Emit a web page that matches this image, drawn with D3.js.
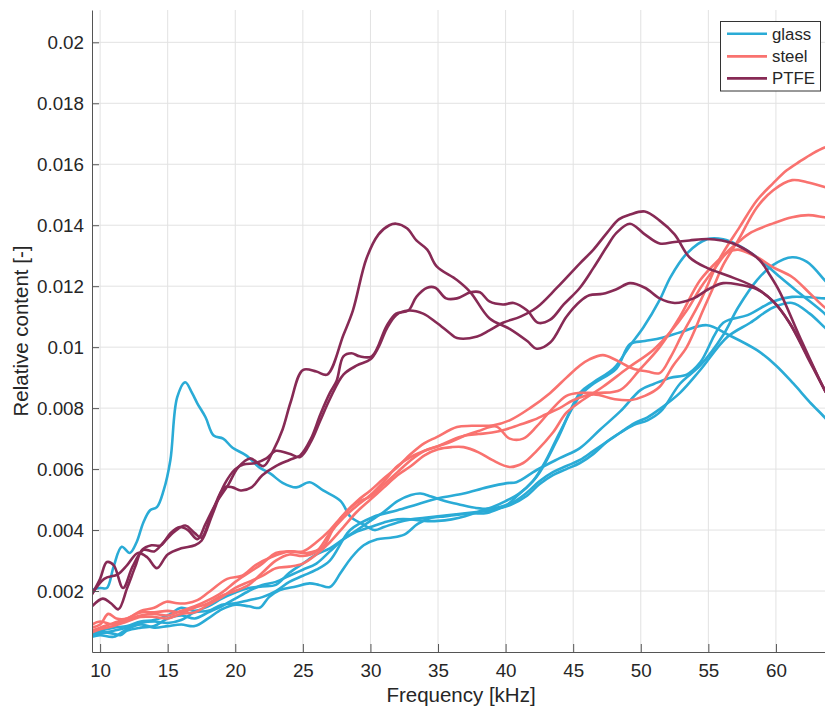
<!DOCTYPE html>
<html>
<head>
<meta charset="utf-8">
<script src="https://cdn.jsdelivr.net/npm/d3@7"></script>
<style>
  body { margin: 0; background: #fff; }
  svg { display: block; }
  text { font-family: "Liberation Sans", Arial, Helvetica, sans-serif; fill: #262626; }
</style>
</head>
<body>
<svg id="chart" width="825" height="708"></svg>
<script>
// ---- Axis settings -------------------------------------------------------
const xDomain = [9.4, 64];
const yDomain = [0, 0.02106];
const xTicks = [10, 15, 20, 25, 30, 35, 40, 45, 50, 55, 60];
const xTickLabels = ["10", "15", "20", "25", "30", "35", "40", "45", "50", "55", "60"];
const yTicks = [0.002, 0.004, 0.006, 0.008, 0.010, 0.012, 0.014, 0.016, 0.018, 0.020];
const yTickLabels = ["0.002", "0.004", "0.006", "0.008", "0.01", "0.012", "0.014", "0.016", "0.018", "0.02"];
const xLabel = "Frequency [kHz]";
const yLabel = "Relative content [-]";

// ---- Materials -----------------------------------------------------------
const materials = ["glass", "steel", "PTFE"];
const materialColors = ["#2aabd6", "#f9726f", "#872a55"];

// ---- Spectra: [frequency kHz, relative content] --------------------------
const glass1 = [[9.4,0.00205],[10,0.0021],[10.5,0.0021],[11,0.0028],[11.6,0.00345],[12.2,0.00325],[12.7,0.0036],[13.2,0.00425],[13.7,0.00465],[14.2,0.00475],[14.7,0.0053],[15.2,0.0063],[15.7,0.00835],[16.3,0.00885],[16.8,0.0085],[17.2,0.00815],[17.8,0.0077],[18.4,0.0071],[19.1,0.007],[19.8,0.0067],[20.8,0.00645],[21.8,0.00605],[22.6,0.00585],[23.5,0.00555],[24.5,0.0054],[25.5,0.00557],[26.5,0.0053],[27.8,0.00495],[28.5,0.00445],[29.4,0.0042],[30.3,0.004],[31,0.0041],[32,0.00425],[33,0.00435],[34,0.0044],[35,0.00445],[36,0.0045],[37,0.00455],[38,0.0046],[39,0.00465],[40,0.0048],[40.8,0.0051],[42.3,0.00575],[43.8,0.00695],[45.5,0.0085],[46.5,0.00885],[48,0.0093],[49.2,0.01005],[50.2,0.01065],[51.4,0.01155],[52.2,0.0123],[53.4,0.01307],[54.9,0.01354],[56.1,0.01354],[57.2,0.01335],[58.6,0.01295],[60.3,0.0123],[61.8,0.01175],[63.6,0.0111],[64,0.0109]];
const glass2 = [[9.4,0.0006],[10,0.00065],[11,0.0006],[11.5,0.00055],[12,0.0007],[13,0.0008],[14,0.00085],[15,0.0011],[16,0.0012],[17,0.0011],[18,0.0013],[19,0.0015],[20,0.00175],[21,0.002],[22,0.0022],[23,0.0023],[24,0.0025],[25,0.0027],[26,0.0029],[27,0.0033],[28,0.0037],[29,0.004],[30,0.0043],[31,0.0046],[32,0.00495],[33,0.00515],[33.7,0.0052],[34.5,0.0051],[35.5,0.00495],[36.5,0.00485],[37.5,0.00475],[38.5,0.0047],[39.5,0.00475],[40.5,0.0049],[41.5,0.0052],[42.5,0.0056],[43.5,0.0059],[44.5,0.0061],[45.5,0.0063],[46.5,0.0066],[47.5,0.0069],[48.5,0.0072],[49.5,0.0075],[50.5,0.0077],[51.5,0.008],[52.9,0.0085],[54.4,0.00925],[56.4,0.01033],[58.1,0.0108],[59.8,0.0113],[61.2,0.01145],[62.5,0.0111],[63.6,0.01065],[64,0.0105]];
const glass3 = [[9.4,0.00055],[10,0.0006],[11,0.0007],[12,0.0008],[13,0.00095],[14,0.001],[15,0.00095],[16,0.00105],[17,0.0013],[18,0.00135],[19,0.00155],[20,0.0016],[21,0.0017],[22,0.0018],[23,0.002],[24,0.0023],[25,0.0025],[26,0.0027],[27,0.003],[28.5,0.004],[30.2,0.00443],[32,0.00465],[33.5,0.00485],[35.1,0.00505],[36.9,0.0052],[38.6,0.0054],[40.1,0.00554],[40.8,0.00557],[42.3,0.00597],[44,0.00636],[45.5,0.00669],[47,0.0073],[48.5,0.0079],[50,0.0086],[51,0.0088],[52.2,0.009],[53.4,0.0091],[54.4,0.0095],[56.1,0.0108],[57.9,0.01105],[59.8,0.0115],[61.2,0.01165],[63.6,0.0116],[64,0.0116]];
const glass4 = [[9.4,0.0005],[10,0.00055],[11,0.0005],[12,0.00075],[13,0.0009],[14,0.0008],[15,0.00085],[16,0.0009],[17,0.00085],[18,0.0011],[19,0.0014],[20,0.00155],[21,0.0015],[21.8,0.00145],[22.5,0.0018],[23.3,0.00203],[24.5,0.00215],[25.5,0.00225],[26.2,0.0022],[27,0.00213],[27.8,0.0026],[28.6,0.0031],[29.5,0.0035],[30.5,0.0037],[31.5,0.00375],[32.5,0.00385],[33.5,0.0042],[34.5,0.0044],[35.5,0.00445],[36.5,0.0045],[37.5,0.00455],[38.5,0.00455],[39.5,0.0047],[40.5,0.00485],[41.5,0.0051],[42.5,0.0055],[43.5,0.0058],[44.5,0.006],[45.5,0.0062],[46.5,0.0065],[47.5,0.0069],[48.5,0.0072],[49.5,0.00745],[50.5,0.0076],[51.5,0.0079],[52.9,0.0088],[54.4,0.0094],[56.1,0.0104],[57.2,0.0113],[58.6,0.0122],[59.8,0.0127],[61.2,0.01295],[62.3,0.0128],[63.6,0.0122],[64,0.012]];
const glass5 = [[9.4,0.00065],[10,0.0007],[11,0.0008],[12,0.00085],[13,0.001],[14,0.00105],[15,0.0012],[16,0.00145],[17,0.00135],[18,0.0015],[19,0.00175],[20,0.00195],[21,0.0021],[22,0.00215],[23,0.0022],[24,0.0026],[25,0.0029],[26,0.0032],[27,0.0034],[28,0.0037],[29,0.00395],[30,0.0041],[31,0.00425],[32,0.00435],[33,0.00435],[34,0.0043],[35,0.0043],[36,0.00435],[37,0.00445],[38,0.0046],[39,0.00475],[40,0.00495],[41,0.0052],[42,0.0056],[43,0.0063],[44,0.0072],[45.5,0.0084],[46.5,0.0088],[48.2,0.0093],[49.2,0.0101],[50.3,0.0102],[51.5,0.0103],[53,0.0105],[54.9,0.01072],[56.5,0.0104],[58.6,0.0099],[60,0.0094],[61.3,0.0088],[62.5,0.0082],[63.6,0.0077],[64,0.0075]];

const steel1 = [[9.4,0.0008],[10,0.0009],[10.6,0.00125],[11.2,0.0011],[12,0.0011],[13,0.00135],[14,0.00145],[14.9,0.00165],[15.7,0.0016],[16.4,0.0016],[17.2,0.0017],[18,0.00195],[19.4,0.0024],[20.5,0.0025],[21.5,0.00285],[22.6,0.0031],[24,0.0033],[25.3,0.00325],[26.5,0.00345],[27.2,0.004],[28,0.0045],[29,0.00495],[30,0.0053],[31,0.0057],[32,0.00607],[33,0.0065],[34,0.00685],[34.9,0.00705],[36.4,0.00738],[37.5,0.00742],[39.1,0.00744],[40.3,0.0076],[41.8,0.008],[43.3,0.0085],[44.5,0.009],[45.5,0.0094],[46.2,0.0096],[47.2,0.00974],[48.2,0.00957],[49.4,0.0093],[50.5,0.0092],[51.4,0.00915],[52.2,0.00967],[53.1,0.01045],[54.4,0.0115],[55.9,0.01295],[57.3,0.01393],[58.6,0.01482],[59.8,0.01538],[60.8,0.0158],[61.8,0.0161],[62.7,0.01635],[63.6,0.01655],[64,0.0166]];
const steel2 = [[9.4,0.0007],[10,0.0008],[11,0.00095],[12,0.0011],[13,0.0013],[14,0.0013],[15,0.00135],[16,0.0013],[17,0.00145],[18,0.0016],[19,0.00185],[20,0.002],[21,0.0022],[22,0.0026],[23,0.003],[24,0.0032],[25,0.00315],[26,0.0033],[27,0.0039],[28,0.0044],[29,0.0048],[30,0.00515],[31,0.0056],[32,0.0061],[33,0.0064],[34,0.0066],[35,0.00675],[36,0.00695],[37,0.0071],[38,0.00715],[39,0.0072],[40,0.0073],[41,0.00745],[42,0.0076],[43,0.0078],[44,0.008],[45,0.00826],[46.5,0.00845],[48,0.0083],[49.2,0.00826],[50.3,0.0084],[51.4,0.0087],[52.4,0.0094],[53.4,0.01],[54.6,0.0112],[55.4,0.012],[56.1,0.0127],[57.2,0.0135],[58.6,0.01459],[59.8,0.01515],[61.2,0.01548],[62.3,0.01541],[63.6,0.01525],[64,0.0152]];
const steel3 = [[9.4,0.0009],[10,0.001],[11,0.0009],[12,0.00105],[13,0.0012],[14,0.00125],[15,0.0012],[16,0.00135],[17,0.0015],[18,0.0017],[19,0.00195],[20,0.0023],[21,0.0026],[22,0.0029],[23,0.00325],[24,0.0033],[25,0.0033],[26,0.0036],[27,0.004],[28,0.0045],[29,0.0049],[30,0.0051],[31,0.0055],[32,0.0059],[33,0.0063],[34,0.0066],[35,0.00675],[36,0.0069],[37,0.0071],[38,0.00725],[39.3,0.0074],[40.3,0.007],[41.3,0.007],[42.3,0.0074],[43.3,0.0079],[44.5,0.0084],[45.5,0.0085],[47,0.0085],[48.5,0.0086],[50,0.0093],[51.4,0.01],[52.9,0.011],[54.4,0.0122],[55.9,0.01292],[57.2,0.01344],[58.2,0.01377],[59.8,0.01406],[61.2,0.01426],[62.4,0.01433],[63.6,0.01426],[64,0.01425]];
const steel4 = [[9.4,0.00065],[10,0.00075],[11,0.00085],[12,0.001],[13,0.00115],[14,0.00115],[15,0.0011],[16,0.00125],[17,0.0013],[18,0.00155],[19,0.0018],[20,0.0021],[21,0.0023],[22,0.0025],[23,0.00275],[24,0.0028],[25,0.0029],[26,0.0032],[27,0.0036],[28,0.0041],[29,0.0046],[30,0.005],[31,0.0054],[32,0.0058],[33,0.0061],[34,0.00645],[35,0.00665],[36,0.00672],[36.9,0.00672],[38,0.00655],[39,0.0063],[40.3,0.00607],[41.3,0.0062],[42.3,0.0066],[43.5,0.0072],[44.5,0.00785],[45.5,0.0082],[47.2,0.0087],[49,0.0093],[50.9,0.0099],[52.2,0.0105],[53.4,0.0112],[54.5,0.012],[55.5,0.0126],[56.4,0.0131],[57.2,0.0132],[58.6,0.01295],[59.8,0.01262],[61.2,0.0123],[62.5,0.01177],[63.6,0.01131],[64,0.0112]];

const ptfe1 = [[9.4,0.0015],[10.2,0.00175],[10.8,0.0016],[11.35,0.0014],[12,0.0021],[12.6,0.0028],[13.1,0.00335],[13.8,0.0035],[14.5,0.0035],[15.2,0.0039],[15.9,0.0041],[16.5,0.004],[17.2,0.0037],[17.8,0.0042],[18.6,0.0049],[19.5,0.0055],[20.2,0.00605],[21.1,0.00635],[22.1,0.0061],[22.8,0.0066],[23.5,0.0073],[24.1,0.0082],[25,0.00925],[26,0.0092],[26.8,0.0091],[28,0.0104],[28.7,0.0112],[29.7,0.0129],[30.6,0.0137],[31.4,0.014],[31.9,0.01405],[32.7,0.0139],[33.4,0.0135],[34.2,0.0132],[34.9,0.01265],[36.4,0.0122],[37.4,0.0118],[38.8,0.01095],[40.3,0.0106],[41.6,0.0102],[42.3,0.00995],[43.3,0.01015],[44.5,0.011],[45.5,0.0115],[46.2,0.0117],[47.2,0.01175],[48.2,0.0119],[49.2,0.0121],[50.3,0.01195],[51.4,0.0116],[52.5,0.01145],[53.9,0.0116],[55,0.0119],[56.1,0.0121],[57.3,0.01205],[58.6,0.0119],[59.8,0.0115],[61,0.0108],[62.3,0.0097],[63.6,0.0086],[64,0.0083]];
const ptfe2 = [[9.4,0.0019],[10,0.0024],[10.5,0.00295],[11,0.00285],[11.7,0.0021],[12.4,0.0028],[13.2,0.00335],[14,0.0033],[14.7,0.0036],[15.5,0.00395],[16.3,0.00415],[17,0.0039],[17.5,0.00375],[18.3,0.0046],[19.2,0.0054],[19.8,0.0054],[20.4,0.0053],[21.2,0.0054],[22,0.0058],[23,0.0061],[24,0.0063],[24.8,0.00645],[25.6,0.007],[26.3,0.0078],[27,0.0085],[27.5,0.0089],[28,0.0097],[28.6,0.0098],[29.2,0.0097],[30.1,0.0097],[31.2,0.0107],[31.9,0.0111],[32.8,0.0112],[33.4,0.01165],[34.2,0.01195],[34.8,0.01195],[35.6,0.0116],[36.4,0.0116],[37.4,0.0118],[38.1,0.0118],[38.8,0.0115],[39.8,0.0114],[40.6,0.01145],[41.6,0.0112],[42.4,0.0108],[43.3,0.0109],[44.3,0.0114],[45.5,0.01195],[46.5,0.0126],[47.5,0.0133],[48.2,0.01375],[49.2,0.01405],[50.3,0.0137],[51.4,0.0134],[52.5,0.01345],[53.6,0.0135],[54.9,0.01355],[56,0.0135],[57.1,0.01335],[58.8,0.01285],[59.5,0.0124],[60.3,0.0118],[61.8,0.0103],[63.6,0.0086],[64,0.0083]];
const ptfe3 = [[9.4,0.0019],[10.3,0.0024],[11.3,0.00255],[12,0.00285],[12.8,0.00325],[13.5,0.0031],[14.2,0.00275],[15,0.0032],[16,0.0034],[17,0.0035],[17.5,0.00365],[18.3,0.0045],[19.2,0.0055],[20,0.006],[20.6,0.00615],[21.5,0.0062],[22.3,0.00635],[23,0.0066],[24,0.0065],[24.8,0.0064],[25.6,0.0069],[26.3,0.0076],[27,0.0083],[28,0.0091],[29,0.0094],[30,0.0096],[30.6,0.01],[31.2,0.0106],[31.9,0.01105],[32.8,0.0112],[33.9,0.0111],[34.9,0.0108],[35.9,0.01045],[36.4,0.0103],[37.9,0.01035],[38.8,0.01055],[39.8,0.0108],[41.1,0.011],[42.3,0.0113],[43.8,0.01195],[45.5,0.01275],[46.5,0.0132],[47.5,0.01375],[48.4,0.0142],[49.2,0.01435],[50.3,0.01445],[51.4,0.01415],[52.5,0.0137],[53.6,0.01295],[54.9,0.0126],[56.4,0.01235],[58.3,0.012],[59.8,0.0115],[61,0.0108],[62.3,0.00975],[63.6,0.0086],[64,0.0083]];

const glassSeries = [glass1, glass2, glass3, glass4, glass5];
const steelSeries = [steel1, steel2, steel3, steel4];
const ptfeSeries = [ptfe1, ptfe2, ptfe3];
const seriesByMaterial = [glassSeries, steelSeries, ptfeSeries];

// ---- Layout --------------------------------------------------------------
const plot = { left: 92, right: 830, top: 10, bottom: 652 };
const lineWidth = 2.6;

const svg = d3.select("#chart");
const x = d3.scaleLinear().domain(xDomain).range([plot.left, plot.right]);
const y = d3.scaleLinear().domain(yDomain).range([plot.bottom, plot.top]);

svg.append("defs").append("clipPath").attr("id", "plot-clip")
  .append("rect")
  .attr("x", plot.left).attr("y", plot.top)
  .attr("width", plot.right - plot.left).attr("height", plot.bottom - plot.top);

// grid
const grid = svg.append("g").attr("class", "grid");
grid.selectAll("line.vx").data(xTicks).join("line")
  .attr("x1", d => x(d)).attr("x2", d => x(d))
  .attr("y1", plot.top).attr("y2", plot.bottom)
  .attr("stroke", "#e2e2e2").attr("stroke-width", 1);
grid.selectAll("line.hy").data(yTicks).join("line")
  .attr("x1", plot.left).attr("x2", plot.right)
  .attr("y1", d => y(d)).attr("y2", d => y(d))
  .attr("stroke", "#e2e2e2").attr("stroke-width", 1);

// spectra
const line = d3.line()
  .x(d => x(d[0])).y(d => y(d[1]))
  .curve(d3.curveCatmullRom.alpha(0.5));
const traces = svg.append("g").attr("clip-path", "url(#plot-clip)");
seriesByMaterial.forEach((group, mi) => {
  traces.append("g").selectAll("path").data(group).join("path")
    .attr("d", line)
    .attr("fill", "none")
    .attr("stroke", materialColors[mi])
    .attr("stroke-width", lineWidth)
    .attr("stroke-linejoin", "round")
    .attr("stroke-linecap", "round");
});

// axes
const tickFont = 18.8;
const yAxis = d3.axisLeft(y)
  .tickValues(yTicks)
  .tickFormat((d, i) => yTickLabels[i])
  .tickSizeInner(-7).tickSizeOuter(0).tickPadding(8);
const xAxis = d3.axisBottom(x)
  .tickValues(xTicks)
  .tickFormat((d, i) => xTickLabels[i])
  .tickSizeInner(-8).tickSizeOuter(0).tickPadding(11.5);

function styleAxis(g) {
  g.select(".domain").attr("stroke", "#555").attr("stroke-width", 1);
  g.selectAll(".tick line").attr("stroke", "#555").attr("stroke-width", 1);
  g.selectAll(".tick text")
    .attr("font-family", "Liberation Sans, Arial, sans-serif")
    .attr("font-size", tickFont)
    .attr("fill", "#262626");
}

svg.append("g").attr("transform", `translate(${plot.left},0)`).call(yAxis).call(styleAxis);
svg.append("g").attr("transform", `translate(0,${plot.bottom})`).call(xAxis).call(styleAxis);

// axis titles
svg.append("text")
  .attr("x", 461).attr("y", 702)
  .attr("text-anchor", "middle")
  .attr("font-size", 20.5)
  .text(xLabel);
svg.append("text")
  .attr("transform", `translate(28,${(plot.top + plot.bottom) / 2}) rotate(-90)`)
  .attr("text-anchor", "middle")
  .attr("font-size", 20.5)
  .text(yLabel);

// legend
const legend = svg.append("g").attr("class", "legend");
legend.append("rect")
  .attr("x", 720.5).attr("y", 21.5)
  .attr("width", 100).attr("height", 69.5)
  .attr("fill", "#fff").attr("stroke", "#333").attr("stroke-width", 1);
const rowY = [33.7, 56.4, 78.4];
materials.forEach((name, i) => {
  legend.append("line")
    .attr("x1", 727).attr("x2", 767)
    .attr("y1", rowY[i]).attr("y2", rowY[i])
    .attr("stroke", materialColors[i]).attr("stroke-width", lineWidth);
  legend.append("text")
    .attr("x", 772).attr("y", rowY[i] + 6)
    .attr("font-size", 16.8)
    .text(name);
});
</script>
</body>
</html>
